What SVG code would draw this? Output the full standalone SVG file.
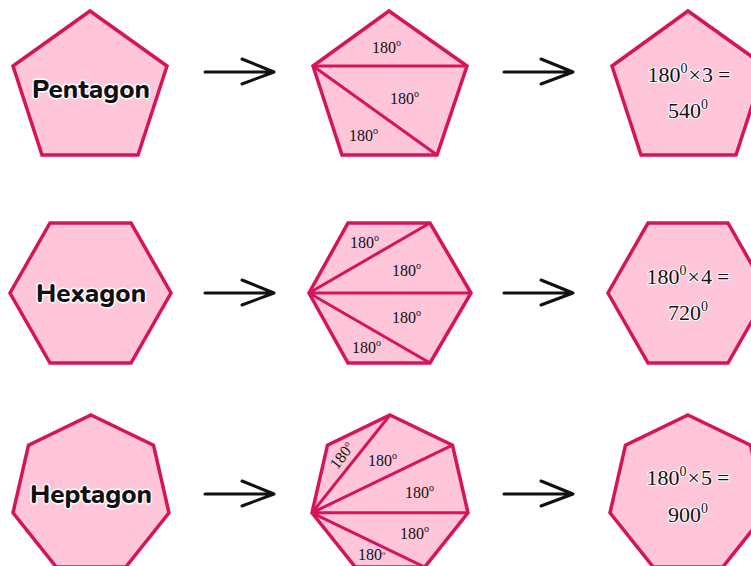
<svg xmlns="http://www.w3.org/2000/svg" width="751" height="566" viewBox="0 0 751 566">
<style>
.shape{fill:#FFC6DA;stroke:#D5145C;stroke-width:3.5;stroke-linejoin:miter}
.diag{stroke:#D5145C;stroke-width:3;fill:none}
.name{font-family:"Nunito","Open Sans","Noto Sans",sans-serif;font-weight:800;font-size:26px;fill:#111;stroke:#fff;stroke-width:3;paint-order:stroke;text-anchor:middle}
.deg{font-family:"Liberation Serif","Times New Roman",serif;font-size:16px;fill:#111}
.math{font-family:"Liberation Serif","Times New Roman",serif;font-size:22px;fill:#111;stroke:#fff;stroke-width:2;paint-order:stroke;text-anchor:middle}
.arrow{stroke:#111;stroke-width:3;fill:none;stroke-linecap:round;stroke-linejoin:round}
</style>
<rect width="751" height="566" fill="#fff"/>
<g id="pentagon-name">
<polygon class="shape" points="90,11 167,66 138,155 42,155 13,66"/>
<text class="name" x="91" y="98">Pentagon</text>
</g>
<g id="pentagon-split">
<polygon class="shape" points="389,11 467,66 437,155 342,155 313,66"/>
<path class="diag" d="M313,66 L467,66 M313,66 L437,155"/>
<text class="deg" x="372" y="53">180<tspan font-size="10" dy="-7">o</tspan></text>
<text class="deg" x="390" y="104">180<tspan font-size="10" dy="-7">o</tspan></text>
<text class="deg" x="349" y="141">180<tspan font-size="10" dy="-7">o</tspan></text>
</g>
<g id="pentagon-sum">
<polygon class="shape" points="688,11 765,66 736,155 641,155 612,66"/>
<text class="math" x="689" y="82">180<tspan font-size="14" dy="-9">0</tspan><tspan dy="9" dx="1">×</tspan><tspan dx="1">3</tspan><tspan dx="5">=</tspan></text>
<text class="math" x="688" y="118">540<tspan font-size="14" dy="-9">0</tspan></text>
</g>
<g id="hexagon-name">
<polygon class="shape" points="50,223 131,223 171,293 131,363 50,363 10,293"/>
<text class="name" x="91" y="302">Hexagon</text>
</g>
<g id="hexagon-split">
<polygon class="shape" points="348,223 430,223 471,293 430,363 348,363 309,293"/>
<path class="diag" d="M309,293 L430,223 M309,293 L471,293 M309,293 L430,363"/>
<text class="deg" x="350" y="248">180<tspan font-size="10" dy="-7">o</tspan></text>
<text class="deg" x="392" y="276">180<tspan font-size="10" dy="-7">o</tspan></text>
<text class="deg" x="392" y="323">180<tspan font-size="10" dy="-7">o</tspan></text>
<text class="deg" x="352" y="353">180<tspan font-size="10" dy="-7">o</tspan></text>
</g>
<g id="hexagon-sum">
<polygon class="shape" points="648,223 728,223 768,293 728,363 648,363 608,293"/>
<text class="math" x="688" y="284">180<tspan font-size="14" dy="-9">0</tspan><tspan dy="9" dx="1">×</tspan><tspan dx="1">4</tspan><tspan dx="5">=</tspan></text>
<text class="math" x="688" y="320">720<tspan font-size="14" dy="-9">0</tspan></text>
</g>
<g id="heptagon-name">
<polygon class="shape" points="91,415 153.5,445.1 169,512.8 125.7,567.1 56.3,567.1 13,512.8 28.5,445.1"/>
<text class="name" x="91" y="503">Heptagon</text>
</g>
<g id="heptagon-split">
<polygon class="shape" points="390,415 452.5,445.1 468,512.8 424.7,567.1 355.3,567.1 312,512.8 327.5,445.1"/>
<path class="diag" d="M312,512.8 L390,415 M312,512.8 L452.5,445.1 M312,512.8 L468,512.8 M312,512.8 L424.7,567.1"/>
<text class="deg" font-size="14" x="0" y="0" text-anchor="middle" transform="translate(346,459) rotate(-52)">180<tspan font-size="9" dy="-6">o</tspan></text>
<text class="deg" x="368" y="466">180<tspan font-size="10" dy="-7">o</tspan></text>
<text class="deg" x="405" y="498">180<tspan font-size="10" dy="-7">o</tspan></text>
<text class="deg" x="400" y="539">180<tspan font-size="10" dy="-7">o</tspan></text>
<text class="deg" font-size="11" x="358" y="560">180<tspan font-size="7" dy="-5">o</tspan></text>
</g>
<g id="heptagon-sum">
<polygon class="shape" points="688,415 750.5,445.1 766,512.8 722.7,567.1 653.3,567.1 610,512.8 625.5,445.1"/>
<text class="math" x="688" y="485">180<tspan font-size="14" dy="-9">0</tspan><tspan dy="9" dx="1">×</tspan><tspan dx="1">5</tspan><tspan dx="5">=</tspan></text>
<text class="math" x="688" y="522">900<tspan font-size="14" dy="-9">0</tspan></text>
</g>
<g id="connectors">
<path class="arrow" d="M205,72 L274,72 M242,59 L274,72 L242,84"/>
<path class="arrow" d="M504,72 L573,72 M541,59 L573,72 L541,84"/>
<path class="arrow" d="M205,293 L274,293 M242,280 L274,293 L242,305"/>
<path class="arrow" d="M504,293 L573,293 M541,280 L573,293 L541,305"/>
<path class="arrow" d="M205,494 L274,494 M242,481 L274,494 L242,506"/>
<path class="arrow" d="M504,494 L573,494 M541,481 L573,494 L541,506"/>
</g>
</svg>
